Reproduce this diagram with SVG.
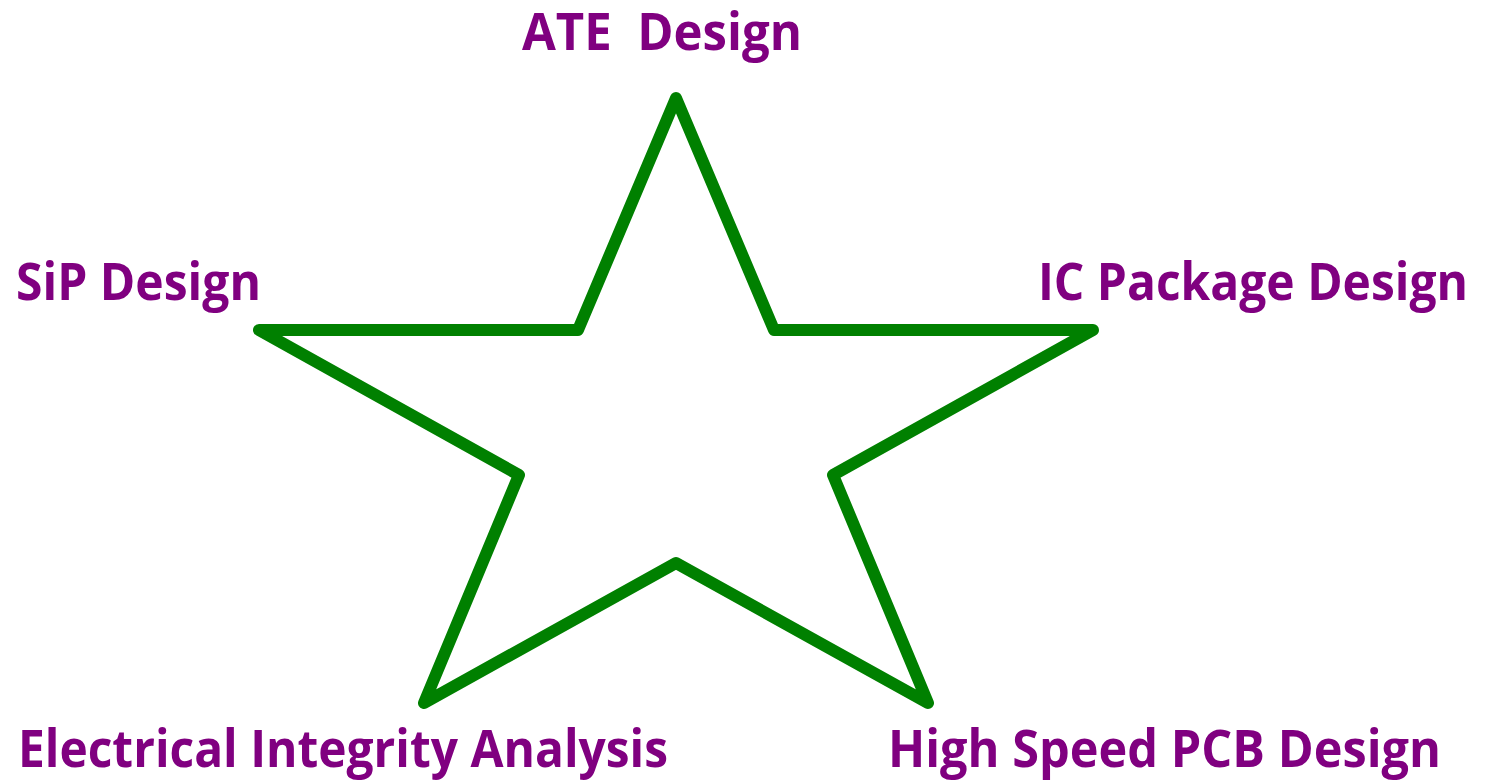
<svg xmlns="http://www.w3.org/2000/svg" width="1493" height="780" viewBox="0 0 1493 780">
<style>
.lbl{font-family:"Open Sans","Liberation Sans",sans-serif;font-weight:bold;font-size:52px;fill:#800080}
.star{fill:none;stroke:#008000;stroke-width:12;stroke-linejoin:round;stroke-linecap:round}
</style>
<rect width="1493" height="780" fill="#ffffff"/>
<g id="star">
<polygon class="star" points="676,98 774,330 1093,330 833,475 928,703 676,563 424,703 519,475 259,330 578,330"/>
</g>
<g id="ate"><text class="lbl" x="522" y="50" textLength="280" lengthAdjust="spacingAndGlyphs" xml:space="preserve">ATE  Design</text></g>
<g id="sip"><text class="lbl" x="16" y="300" textLength="245" lengthAdjust="spacingAndGlyphs">SiP Design</text></g>
<g id="icpkg"><text class="lbl" x="1038" y="300" textLength="430" lengthAdjust="spacingAndGlyphs">IC Package Design</text></g>
<g id="eia"><text class="lbl" x="18" y="767" textLength="650" lengthAdjust="spacingAndGlyphs">Electrical Integrity Analysis</text></g>
<g id="hspcb"><text class="lbl" x="888" y="767" textLength="553" lengthAdjust="spacingAndGlyphs">High Speed PCB Design</text></g>
<g id="connectors"></g>
</svg>
